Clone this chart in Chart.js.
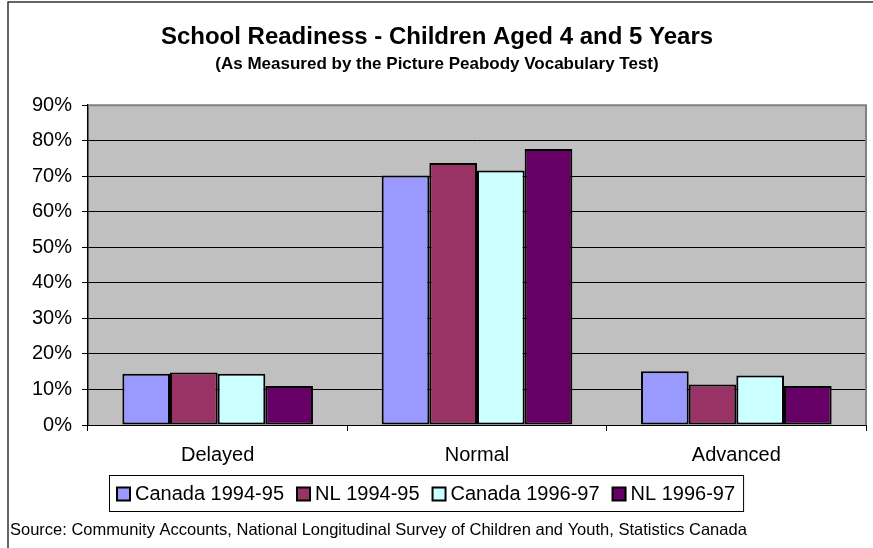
<!DOCTYPE html>
<html>
<head>
<meta charset="utf-8">
<script src="https://cdn.jsdelivr.net/npm/chart.js@4/dist/chart.umd.min.js"></script>
<style>
html,body{margin:0;padding:0;background:#fff;}
#wrap{width:873px;height:548px;position:relative;}
</style>
</head>
<body>
<div id="wrap"><canvas id="c" width="873" height="548"></canvas></div>
<script>
const categories = ['Delayed', 'Normal', 'Advanced'];
const seriesNames = ['Canada 1994-95', 'NL 1994-95', 'Canada 1996-97', 'NL 1996-97'];
const canada9495 = [14.4, 70.2, 15.1];
const nl9495 = [14.8, 73.7, 11.4];
const canada9697 = [14.4, 71.6, 13.9];
const nl9697 = [11.0, 77.7, 11.0];
const seriesColors = ['#9999FF', '#993366', '#CCFFFF', '#660066'];
const yMin = 0, yMax = 90, yStep = 10;
const titleText = 'School Readiness - Children Aged 4 and 5 Years';
const subtitleText = '(As Measured by the Picture Peabody Vocabulary Test)';
const sourceText = 'Source: Community Accounts, National Longitudinal Survey of Children and Youth, Statistics Canada';

const FONT = "'Liberation Sans', Arial, sans-serif";
const seriesValues = [canada9495, nl9495, canada9697, nl9697];

const frame = {
  id: 'frame',
  beforeDraw(chart) {
    const ctx = chart.ctx;
    ctx.save();
    ctx.fillStyle = '#fff';
    ctx.fillRect(0, 0, chart.width, chart.height);
    ctx.strokeStyle = '#333';
    ctx.lineWidth = 1.5;
    ctx.beginPath();
    ctx.moveTo(8, chart.height + 2);
    ctx.lineTo(8, 2);
    ctx.lineTo(chart.width + 2, 2);
    ctx.stroke();
    const a = chart.chartArea;
    ctx.fillStyle = '#C0C0C0';
    ctx.fillRect(a.left, a.top, a.right - a.left, a.bottom - a.top);
    ctx.restore();
  },
  beforeDatasetsDraw(chart) {
    const ctx = chart.ctx, a = chart.chartArea;
    ctx.save();
    ctx.strokeStyle = '#808080';
    ctx.lineWidth = 2;
    ctx.beginPath();
    ctx.moveTo(a.left, a.top);
    ctx.lineTo(a.right, a.top);
    ctx.lineTo(a.right, a.bottom);
    ctx.stroke();
    ctx.restore();
  },
  afterDraw(chart) {
    const ctx = chart.ctx;
    ctx.save();
    // legend
    ctx.font = '20px ' + FONT;
    ctx.textBaseline = 'middle';
    ctx.textAlign = 'left';
    let x = 116;
    const cy = 494;
    const bx0 = 109, by0 = 475, by1 = 511;
    chart.data.datasets.forEach((ds, i) => {
      if (i > 0) x += 12;
      ctx.fillStyle = ds.backgroundColor;
      ctx.fillRect(x + 1, cy - 6.5, 13, 13);
      ctx.strokeStyle = '#000';
      ctx.lineWidth = 2;
      ctx.strokeRect(x + 1, cy - 6.5, 13, 13);
      ctx.fillStyle = '#000';
      ctx.fillText(ds.label, x + 19, cy);
      x += 19 + ctx.measureText(ds.label).width;
    });
    ctx.strokeStyle = '#000';
    ctx.lineWidth = 1;
    ctx.strokeRect(bx0 + 0.5, by0 + 0.5, x + 8 - bx0, by1 - by0);
    // source
    ctx.font = '16.5px ' + FONT;
    ctx.fillStyle = '#000';
    ctx.fillText(sourceText, 10, 530);
    ctx.restore();
  }
};

new Chart(document.getElementById('c'), {
  type: 'bar',
  data: {
    labels: categories,
    datasets: seriesNames.map((name, i) => ({
      label: name,
      data: seriesValues[i],
      backgroundColor: seriesColors[i],
      borderColor: '#000',
      borderWidth: 2,
      borderSkipped: false,
      barPercentage: 1.0,
      categoryPercentage: 0.735
    }))
  },
  options: {
    responsive: false,
    animation: false,
    devicePixelRatio: 1,
    layout: { padding: { left: 8, right: 7, top: 0, bottom: 78 } },
    plugins: {
      legend: { display: false },
      tooltip: { enabled: false },
      title: {
        display: true,
        text: titleText,
        color: '#000',
        font: { family: FONT, size: 24, weight: 'bold' },
        padding: { top: 23, bottom: 2 }
      },
      subtitle: {
        display: true,
        text: subtitleText,
        color: '#000',
        font: { family: FONT, size: 17, weight: 'bold' },
        padding: { top: 0, bottom: 31 }
      }
    },
    scales: {
      x: {
        grid: { display: true, offset: true, drawOnChartArea: false, color: '#000', tickLength: 6, lineWidth: 1 },
        border: { display: true, color: '#000', width: 1 },
        ticks: { color: '#000', font: { family: FONT, size: 20 }, padding: 12 },
        afterFit(s) { s.height = 45; }
      },
      y: {
        min: yMin, max: yMax,
        grid: { color: (c) => c.tick && c.tick.value === yMax ? 'rgba(0,0,0,0)' : '#000', tickColor: '#000', tickLength: 6, lineWidth: 1 },
        border: { display: true, color: '#000', width: 1.5 },
        ticks: { stepSize: yStep, color: '#000', font: { family: FONT, size: 20 }, padding: 10, callback: v => v + '%' },
        afterFit(s) { s.width = 80; }
      }
    }
  },
  plugins: [frame]
});
</script>
</body>
</html>
